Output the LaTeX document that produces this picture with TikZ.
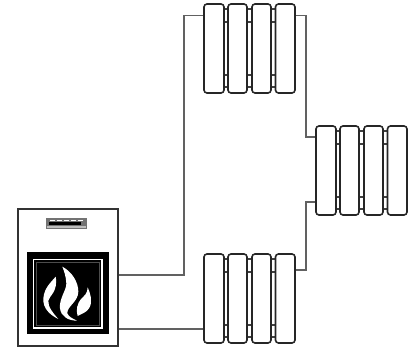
\documentclass[tikz,border=0pt]{standalone}
\tikzset{
  pipe/.style={draw=black!62,line width=1.1pt},
  section/.style={draw=black!85,fill=white,line width=1.6pt,rounded corners=3pt},
  stub/.style={draw=black!75,fill=white,line width=1.2pt},
  flame/.style={fill=white,draw=none},
  pics/radiator/.style={code={
    \foreach \a/\b in {20/24,43/48,67/71.5}{
      \path[stub] (\a,5) rectangle (\b,18);
      \path[stub] (\a,71) rectangle (\b,83);
    }
    \foreach \a/\b in {0/20,24/43,48/67,71.5/91}{
      \path[section] (\a,0) rectangle (\b,89);
    }
  }}
}
\begin{document}
\begin{tikzpicture}[x=1pt,y=-1pt]
\useasboundingbox (0,0) rectangle (416,349);
\fill[white] (0,0) rectangle (416,349);
% pipes
\coordinate (boilerA) at (118,275);
\coordinate (boilerB) at (118,329);
\draw[pipe] (boilerA) -- (184,275) -- (184,15.5) -- (204,15.5);
\draw[pipe] (boilerB) -- (204,329);
\draw[pipe] (295,15.5) -- (306,15.5) -- (306,137) -- (316,137);
\draw[pipe] (295,270) -- (306,270) -- (306,202) -- (316,202);
% radiators
\pic at (204,4) {radiator};
\pic at (316,126) {radiator};
\pic at (204,254) {radiator};
% boiler
\draw[draw=black!80,fill=white,line width=1.1pt] (18,209) rectangle (118,346);
\fill[black!55] (46,218) rectangle (87,229);
\fill[black] (49,221.5) rectangle (81,225);
\foreach \x in {50,57,64,71,78}{\fill[white] (\x,219.5) rectangle (\x+4.5,221);}
\fill[black!25] (47,226) rectangle (86,228);
% stove
\fill[black] (27,252) rectangle (109,334);
\draw[white,line width=1.2pt] (33.5,259.5) rectangle (102,328);
\draw[black!70,line width=0.8pt] (36.5,262.5) rectangle (99,325);
% flame
\begin{scope}[shift={(25,250)},x=0.3333pt,y=-0.3333pt]
\path[flame] (92,80) .. controls (80,95) and (58,112) .. (55,145)
  .. controls (53,175) and (75,195) .. (100,207)
  .. controls (85,190) and (68,170) .. (70,152)
  .. controls (72,138) and (100,125) .. (92,80) -- cycle;
\path[flame] (112,50) .. controls (140,65) and (160,95) .. (160,125)
  .. controls (160,155) and (125,170) .. (127,190)
  .. controls (130,200) and (145,207) .. (156,212)
  .. controls (130,212) and (108,200) .. (105,175)
  .. controls (102,145) and (125,120) .. (124,100)
  .. controls (123,80) and (118,65) .. (112,50) -- cycle;
\path[flame] (188,112) .. controls (196,130) and (205,155) .. (192,175)
  .. controls (185,187) and (172,190) .. (158,198)
  .. controls (152,180) and (157,160) .. (168,147)
  .. controls (178,137) and (188,130) .. (188,112) -- cycle;
\end{scope}
\end{tikzpicture}
\end{document}
